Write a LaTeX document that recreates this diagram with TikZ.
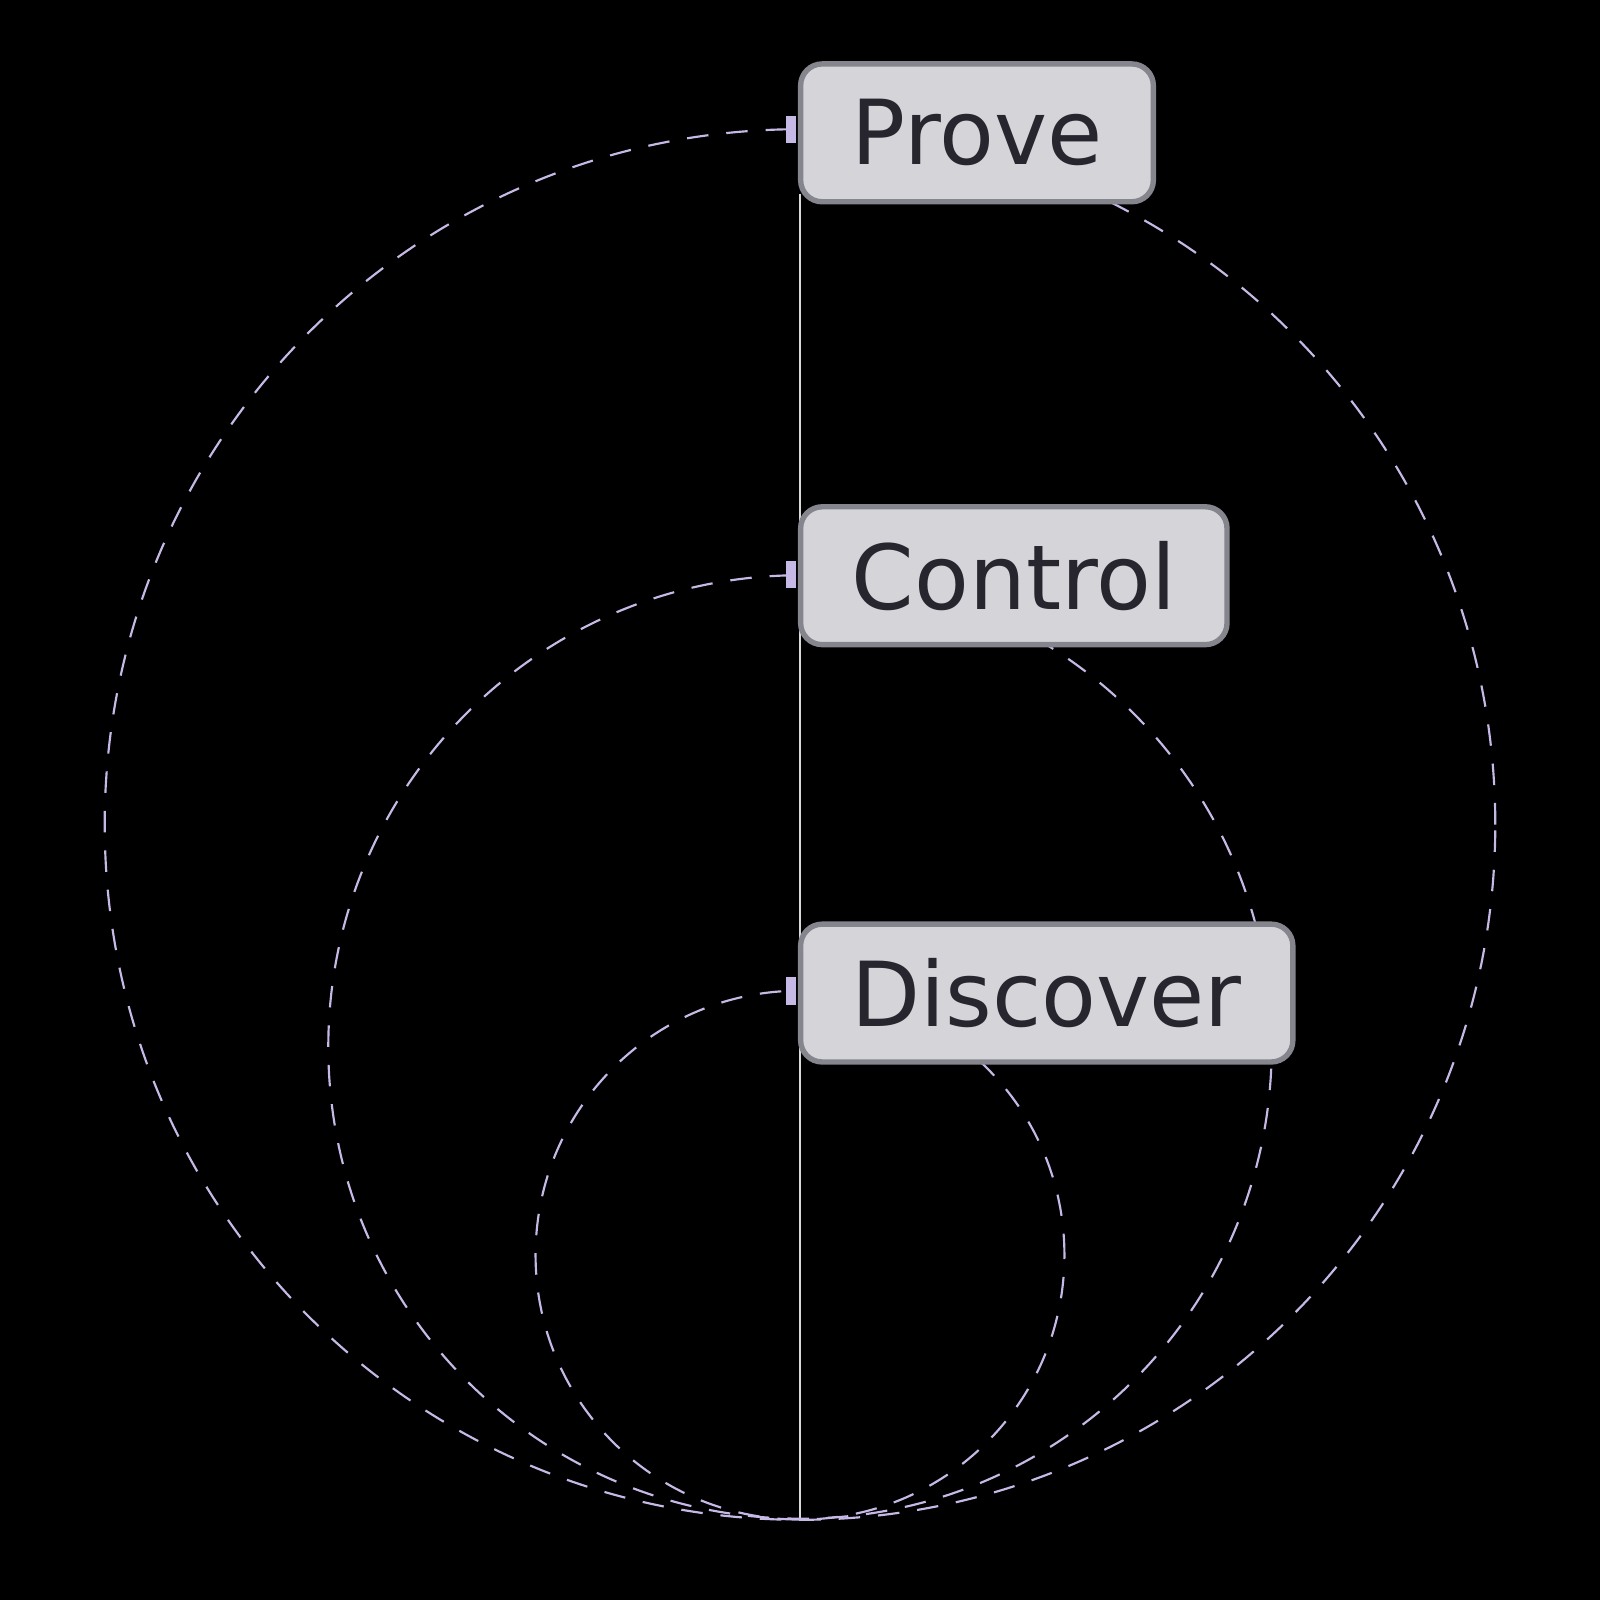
\documentclass[tikz,border=0pt]{standalone}
\usepackage{fontspec}
\setmainfont{DejaVu Sans}
\definecolor{boxfill}{HTML}{D4D4D9}
\definecolor{boxline}{HTML}{85858E}
\definecolor{boxtext}{HTML}{27262F}
\definecolor{ring}{HTML}{C6B9E6}
\begin{document}
\begin{tikzpicture}[x=0.01cm,y=-0.01cm,
stage/.style={%
anchor=north west,
draw=boxline,
line width=1.5pt,
fill=boxfill,
text=boxtext,
rounded corners=6pt,
minimum height=1.35cm,
inner xsep=0.5cm,
font=\fontsize{25}{30}\selectfont,
},
tick/.style={%
fill=ring,
minimum width=0.1cm,
minimum height=0.27cm,
inner sep=0pt,
},
loop/.style={%
draw=ring,
dash pattern=on 6pt off 5pt,
line width=0.6pt,
},
]
\fill[black] (0,0) rectangle (1568,1568);
\useasboundingbox (0,0) rectangle (1568,1568);
%% Axis
\coordinate (top) at (784,190);
\coordinate (base) at (784,1488);
\draw[white!85!black,line width=0.8pt] (top)--(base);
%% Loops
\draw[loop] (784,808) circle[radius=6.81cm];
\draw[loop] (784,1026) circle[radius=4.62cm];
\draw[loop] (784,1230) circle[radius=2.59cm];
%% Stages
\node[stage] (prove) at (782,60) {Prove};
\node[stage] (control) at (782,494) {Control};
\node[stage] (discover) at (782,903) {Discover};
\node[tick] (tprove) at (775,127) {};
\node[tick] (tcontrol) at (775,563) {};
\node[tick] (tdiscover) at (775,971) {};
\end{tikzpicture}
\end{document}
